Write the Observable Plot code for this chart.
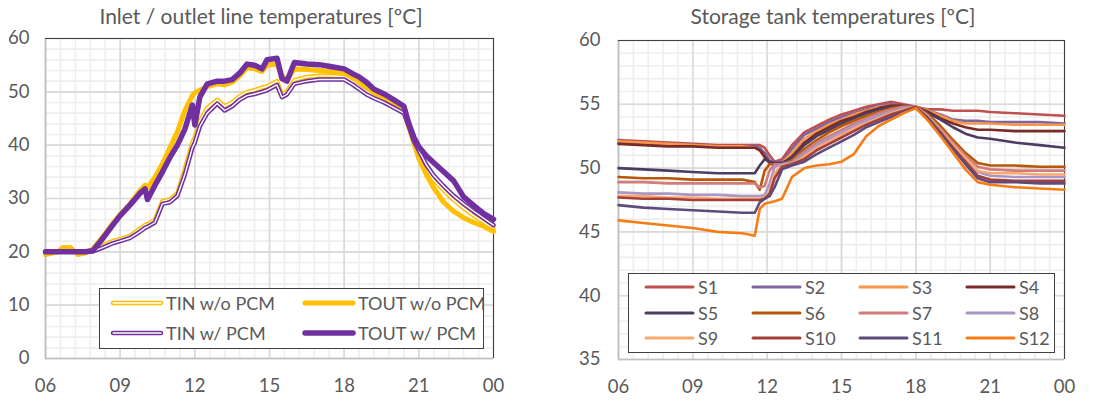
<!DOCTYPE html>
<html>
<head>
<meta charset="utf-8">
<script src="https://cdn.jsdelivr.net/npm/d3@7"></script>
<script src="https://cdn.jsdelivr.net/npm/@observablehq/plot@0.6"></script>
<style>
  body { margin: 0; background: #fff; font-family: Lato, "Open Sans", sans-serif; color: #595959; }
  #wrap { position: relative; width: 1110px; height: 401px; overflow: hidden; }
  .panel { position: absolute; top: 0; }
  .title { position: absolute; top: 3px; font-size: 21px; white-space: nowrap; transform: translateX(-50%); color: #595959; }
  .legend { position: absolute; background: #fff; border: 1px solid #404040; box-sizing: border-box; }
  .item { position: absolute; height: 20px; font-size: 18px; line-height: 20px; white-space: nowrap; }
  .item svg { position: absolute; top: 0; left: 0; }
  .item span { position: absolute; top: 0; }
</style>
</head>
<body>
<div id="wrap"></div>
<script>
// ---------- Left panel data (hours, °C) ----------
const hoursLine = [6, 6.5, 6.7, 7.0, 7.3, 7.6, 7.9, 8.3, 8.7, 9.0, 9.4, 9.8, 10.0, 10.1, 10.4, 10.7, 11.0, 11.3, 11.6, 11.9, 12.0, 12.2, 12.5, 12.9, 13.2, 13.5, 13.8, 14.1, 14.4, 14.7, 14.9, 15.3, 15.5, 15.7, 16.0, 16.5, 17.0, 17.5, 18.0, 18.3, 18.6, 18.9, 19.2, 19.6, 20.0, 20.4, 20.6, 20.8, 21.0, 21.3, 21.6, 22.0, 22.4, 22.8, 23.2, 23.6, 24.0];
const tinNoPcm  = [20, 20, 20, 20, 20, 20, 20.3, 21.2, 22, 22.4, 23, 24.3, 25, 25.2, 26, 29.5, 29.8, 31, 35.5, 40.5, 41.5, 44.5, 47, 48.5, 47.3, 48, 49.2, 50, 50.3, 50.8, 51, 52, 49.5, 50, 52.2, 52.8, 53, 53, 52.8, 52, 51, 50, 49.2, 48.3, 47.2, 46.2, 43.2, 40.3, 38.5, 35.7, 33.5, 31.5, 29.7, 28.2, 26.8, 25.6, 24.3];
const toutNoPcm = [19.5, 20, 20.8, 20.8, 19.5, 19.8, 20.5, 22.8, 25.3, 27, 29, 31.5, 32.5, 32, 34, 36.5, 39.5, 42.5, 46.5, 49.3, 49.8, 50.3, 51, 51.5, 51.3, 51.8, 53, 54.5, 54.3, 53.8, 55, 55.2, 53, 52.2, 54.3, 54.2, 54, 53.8, 53.6, 53, 52.2, 51, 49.8, 48.8, 48, 46.6, 44, 40.5, 37.5, 34.5, 32, 29.3, 27.6, 26.4, 25.5, 24.8, 23.8];
const tinPcm    = [20, 20, 20, 20, 20, 20, 20.1, 20.8, 21.6, 22, 22.6, 23.8, 24.5, 24.7, 25.5, 29, 29.3, 30.5, 34.5, 39.5, 40.5, 43.5, 46, 47.8, 46.5, 47.3, 48.5, 49.3, 49.6, 50, 50.3, 51.3, 49, 49.5, 51.5, 52, 52.3, 52.3, 52.3, 51.5, 50.5, 49.5, 48.8, 48, 47, 46, 43.5, 40.8, 39, 36.3, 34.3, 32.3, 30.5, 29, 27.6, 26.3, 25];
const toutPcm   = [20, 20, 20, 20, 20, 20, 20.2, 22.5, 25, 26.8, 28.8, 31, 31.8, 29.8, 32.5, 35, 37.7, 40, 43, 47.5, 43.8, 49, 51.5, 52, 52, 52.3, 53.5, 55.2, 55, 54.3, 56, 56.3, 52.5, 52, 55.5, 55.2, 55.1, 54.7, 54.3, 53.5, 52.8, 51.8, 50.5, 49.6, 48.5, 47.3, 44, 41.5, 39.7, 38, 36.7, 35, 33.3, 30.3, 28.7, 27.2, 26.1];
const lineNames = ["TIN w/o PCM", "TOUT w/o PCM", "TIN w/ PCM", "TOUT w/ PCM"];

// ---------- Right panel data ----------
const hoursTank = [6, 7, 8, 9, 10, 11, 11.5, 11.7, 11.9, 12.1, 12.3, 12.6, 13, 13.5, 14, 14.5, 15, 15.5, 16, 16.5, 17, 17.5, 18, 18.5, 19, 19.5, 20, 20.5, 21, 22, 23, 24];
const s1  = [52.2, 52.1, 52.0, 51.9, 51.8, 51.8, 51.8, 51.8, 51.6, 51.0, 50.5, 50.7, 51.8, 52.8, 53.3, 53.8, 54.2, 54.5, 54.8, 55.0, 55.2, 55.0, 54.8, 54.6, 54.6, 54.5, 54.5, 54.5, 54.4, 54.3, 54.2, 54.1];
const s2  = [52.0, 51.9, 51.9, 51.8, 51.7, 51.7, 51.7, 51.6, 51.2, 50.6, 50.4, 50.5, 51.5, 52.6, 53.1, 53.6, 54.0, 54.3, 54.6, 54.9, 55.0, 54.9, 54.8, 54.5, 54.2, 53.8, 53.7, 53.7, 53.6, 53.6, 53.6, 53.5];
const s3  = [52.1, 52.0, 51.9, 51.8, 51.7, 51.7, 51.6, 51.4, 50.8, 50.4, 50.3, 50.4, 51.2, 52.3, 52.9, 53.4, 53.8, 54.2, 54.5, 54.8, 54.9, 54.9, 54.8, 54.5, 54.1, 53.7, 53.5, 53.5, 53.5, 53.4, 53.4, 53.4];
const s4  = [51.9, 51.8, 51.7, 51.7, 51.6, 51.6, 51.6, 51.4, 50.9, 50.4, 50.3, 50.3, 50.9, 52.0, 52.7, 53.2, 53.7, 54.0, 54.4, 54.7, 54.9, 54.9, 54.8, 54.4, 53.9, 53.5, 53.2, 53.0, 53.0, 52.9, 52.9, 52.9];
const s5  = [50.0, 49.9, 49.8, 49.7, 49.6, 49.6, 49.6, 50.2, 50.7, 50.5, 50.4, 50.4, 50.8, 51.8, 52.5, 53.0, 53.5, 53.9, 54.3, 54.6, 54.8, 54.8, 54.8, 54.3, 53.8, 53.2, 52.7, 52.4, 52.3, 52.0, 51.8, 51.6];
const s6  = [49.3, 49.2, 49.2, 49.1, 49.1, 49.1, 48.9, 48.3, 49.8, 50.3, 50.3, 50.3, 50.6, 51.5, 52.2, 52.8, 53.3, 53.7, 54.1, 54.4, 54.7, 54.8, 54.8, 54.2, 53.3, 52.2, 51.2, 50.4, 50.2, 50.2, 50.1, 50.1];
const s7  = [48.9, 48.9, 48.8, 48.8, 48.8, 48.8, 48.8, 48.5, 48.6, 49.8, 50.3, 50.3, 50.5, 51.3, 52.0, 52.5, 53.0, 53.5, 53.9, 54.3, 54.6, 54.8, 54.8, 54.1, 53.1, 52.0, 51.0, 50.1, 49.9, 49.8, 49.8, 49.8];
const s8  = [48.1, 48.0, 48.0, 47.9, 47.9, 47.8, 47.8, 47.8, 47.9, 48.8, 50.1, 50.3, 50.4, 51.1, 51.8, 52.3, 52.8, 53.3, 53.7, 54.1, 54.4, 54.7, 54.8, 54.0, 52.9, 51.8, 50.7, 49.7, 49.4, 49.3, 49.3, 49.3];
const s9  = [47.8, 47.8, 47.7, 47.7, 47.6, 47.6, 47.6, 47.6, 47.7, 48.2, 49.6, 50.2, 50.3, 50.9, 51.6, 52.1, 52.6, 53.1, 53.5, 53.9, 54.3, 54.6, 54.8, 54.0, 52.9, 51.8, 50.8, 49.8, 49.6, 49.6, 49.5, 49.5];
const s10 = [47.7, 47.6, 47.6, 47.5, 47.5, 47.5, 47.5, 47.5, 47.6, 48.0, 49.2, 50.1, 50.3, 50.7, 51.4, 51.9, 52.4, 52.9, 53.4, 53.8, 54.2, 54.5, 54.8, 53.9, 52.8, 51.6, 50.5, 49.4, 49.1, 49.0, 49.0, 49.0];
const s11 = [47.1, 46.9, 46.8, 46.7, 46.6, 46.5, 46.5, 47.3, 47.6, 47.8, 48.5, 49.9, 50.2, 50.5, 51.1, 51.6, 52.1, 52.6, 53.2, 53.6, 54.0, 54.4, 54.7, 53.9, 52.7, 51.5, 50.3, 49.2, 48.9, 48.9, 48.8, 48.8];
const s12 = [45.9, 45.7, 45.5, 45.3, 45.0, 44.9, 44.7, 46.8, 47.2, 47.3, 47.4, 47.6, 49.3, 50.0, 50.2, 50.3, 50.5, 51.1, 52.5, 53.3, 53.8, 54.3, 54.7, 53.7, 52.5, 51.2, 49.9, 48.9, 48.7, 48.5, 48.4, 48.3];
const tankNames = ["S1", "S2", "S3", "S4", "S5", "S6", "S7", "S8", "S9", "S10", "S11", "S12"];

// ---------- Axis ticks ----------
const xTickHours = [6, 9, 12, 15, 18, 21, 24];
const xTickLabels = ["06", "09", "12", "15", "18", "21", "00"];
const yTicksLine = [0, 10, 20, 30, 40, 50, 60];
const yTicksTank = [35, 40, 45, 50, 55, 60];

// ---------- Styles ----------
const YELLOW = "#FFC000", PURPLE = "#7030A0";
const tankColors = ["#C0504D", "#8064A2", "#F79646", "#772C2A", "#4D3B62", "#B65708", "#D27B79", "#A996C6", "#F8A96F", "#A33E3B", "#604A7B", "#F67C16"];
const FONT = "Lato, 'Open Sans', sans-serif";
const TXT = "#595959";

const wrap = document.getElementById("wrap");
const xLabel = h => xTickLabels[xTickHours.indexOf(h)];
const minorX = d3.range(6, 24.001, 0.6);

function rows(hours, vals, name) { return hours.map((t, i) => ({t, v: vals[i], name})); }

function gridMarks(yDomain, yMinorStep, yMajor) {
  const minorY = d3.range(yDomain[0], yDomain[1] + 0.001, yMinorStep);
  return [
    Plot.ruleX(minorX, {stroke: "#eeeeee", strokeWidth: 1.6}),
    Plot.ruleY(minorY, {stroke: "#eeeeee", strokeWidth: 1.6}),
    Plot.ruleX(xTickHours, {stroke: "#d9d9d9", strokeWidth: 1.6}),
    Plot.ruleY(yMajor, {stroke: "#d9d9d9", strokeWidth: 1.6}),
    Plot.ruleX([6], {stroke: "#bfbfbf", strokeWidth: 1.6}),
    Plot.ruleY([yDomain[0]], {stroke: "#bfbfbf", strokeWidth: 1.6}),
    Plot.ruleX([24], {stroke: "#404040", strokeWidth: 1}),
    Plot.ruleY([yDomain[1]], {stroke: "#404040", strokeWidth: 1})
  ];
}

// ---------- Left chart ----------
const leftData = [
  rows(hoursLine, tinNoPcm, lineNames[0]),
  rows(hoursLine, toutNoPcm, lineNames[1]),
  rows(hoursLine, tinPcm, lineNames[2]),
  rows(hoursLine, toutPcm, lineNames[3])
];
const left = Plot.plot({
  width: 555, height: 401,
  marginLeft: 45, marginRight: 62, marginTop: 38, marginBottom: 43,
  style: {fontFamily: FONT, fontSize: "18px", color: TXT, background: "transparent"},
  x: {domain: [6, 24]},
  y: {domain: [0, 60]},
  marks: [
    ...gridMarks([0, 60], 2, yTicksLine),
    Plot.line(leftData[0], {x: "t", y: "v", stroke: YELLOW, strokeWidth: 4.5, strokeLinejoin: "round"}),
    Plot.line(leftData[0], {x: "t", y: "v", stroke: "#fff", strokeWidth: 1.4, strokeLinejoin: "round"}),
    Plot.line(leftData[1], {x: "t", y: "v", stroke: YELLOW, strokeWidth: 5, strokeLinejoin: "round"}),
    Plot.line(leftData[2], {x: "t", y: "v", stroke: PURPLE, strokeWidth: 4.5, strokeLinejoin: "round"}),
    Plot.line(leftData[2], {x: "t", y: "v", stroke: "#fff", strokeWidth: 1.4, strokeLinejoin: "round"}),
    Plot.line(leftData[3], {x: "t", y: "v", stroke: PURPLE, strokeWidth: 5.5, strokeLinejoin: "round"}),
    Plot.axisX({ticks: xTickHours, tickFormat: xLabel, tickSize: 0, tickPadding: 20, label: null, fontSize: 18.5}),
    Plot.axisY({ticks: yTicksLine, tickSize: 0, tickPadding: 16, label: null, fontSize: 18.5})
  ]
});
const lp = document.createElement("div");
lp.className = "panel"; lp.style.left = "0px";
lp.appendChild(left);
wrap.appendChild(lp);

// ---------- Right chart ----------
const tankVals = [s1, s2, s3, s4, s5, s6, s7, s8, s9, s10, s11, s12];
const right = Plot.plot({
  width: 555, height: 401,
  marginLeft: 63, marginRight: 46, marginTop: 40, marginBottom: 42,
  style: {fontFamily: FONT, fontSize: "18px", color: TXT, background: "transparent"},
  x: {domain: [6, 24]},
  y: {domain: [35, 60]},
  marks: [
    ...gridMarks([35, 60], 1, yTicksTank),
    ...tankVals.map((vals, i) => Plot.line(rows(hoursTank, vals, tankNames[i]), {x: "t", y: "v", stroke: tankColors[i], strokeWidth: 2.6, strokeLinejoin: "round"})),
    Plot.axisX({ticks: xTickHours, tickFormat: xLabel, tickSize: 0, tickPadding: 20, label: null, fontSize: 18.5}),
    Plot.axisY({ticks: yTicksTank, tickSize: 0, tickPadding: 18, label: null, fontSize: 18.5})
  ]
});
const rp = document.createElement("div");
rp.className = "panel"; rp.style.left = "555px";
rp.appendChild(right);
wrap.appendChild(rp);

// ---------- Titles ----------
function title(text, cx) {
  const d = document.createElement("div");
  d.className = "title"; d.textContent = text; d.style.left = cx + "px";
  wrap.appendChild(d);
}
title("Inlet / outlet line temperatures [ºC]", 261);
title("Storage tank temperatures [ºC]", 833);

// ---------- Legends ----------
function legendBox(x, y, w, h) {
  const b = document.createElement("div");
  b.className = "legend";
  Object.assign(b.style, {left: x + "px", top: y + "px", width: w + "px", height: h + "px"});
  wrap.appendChild(b);
  return b;
}
function legendItem(box, x, cy, len, text, draw) {
  const it = document.createElement("div");
  it.className = "item";
  Object.assign(it.style, {left: x + "px", top: (cy - 10) + "px"});
  const ns = "http://www.w3.org/2000/svg";
  const svg = document.createElementNS(ns, "svg");
  svg.setAttribute("width", len + 8); svg.setAttribute("height", 20);
  draw.forEach(([color, w]) => {
    const l = document.createElementNS(ns, "line");
    l.setAttribute("x1", 4); l.setAttribute("x2", len + 4);
    l.setAttribute("y1", 10); l.setAttribute("y2", 10);
    l.setAttribute("stroke", color); l.setAttribute("stroke-width", w);
    l.setAttribute("stroke-linecap", "round");
    svg.appendChild(l);
  });
  it.appendChild(svg);
  const s = document.createElement("span");
  s.textContent = text; s.style.left = (len + 9) + "px";
  it.appendChild(s);
  box.appendChild(it);
}
const lb = legendBox(99, 288, 385, 61);
const leftStyles = [[[YELLOW, 4.5], ["#fff", 1.4]], [[YELLOW, 5]], [[PURPLE, 4.5], ["#fff", 1.4]], [[PURPLE, 5.5]]];
const lpos = [[9, 14], [201, 14], [9, 44], [201, 44]];
lineNames.forEach((n, i) => legendItem(lb, lpos[i][0], lpos[i][1], 48, n, leftStyles[i]));

const rb = legendBox(628, 273, 427, 80);
tankNames.forEach((n, i) => {
  const col = i % 4, row = Math.floor(i / 4);
  legendItem(rb, 13 + col * 107, 13 + row * 25.5, 47, n, [[tankColors[i], 3]]);
});
</script>
</body>
</html>
